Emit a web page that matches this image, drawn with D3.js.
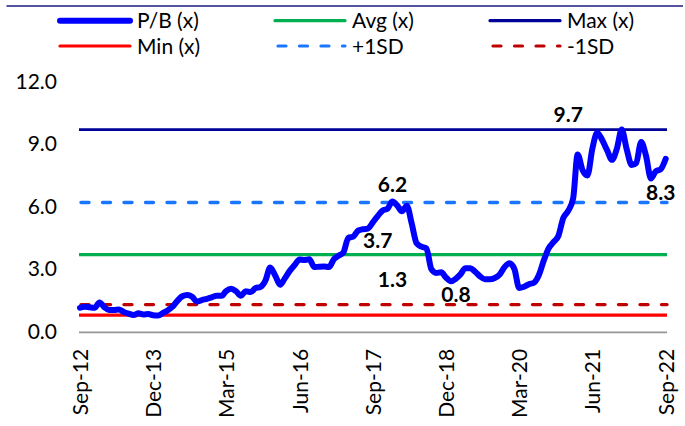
<!DOCTYPE html>
<html>
<head>
<meta charset="utf-8">
<script src="https://cdn.jsdelivr.net/npm/d3@7"></script>
<style>
  html, body { margin: 0; padding: 0; background: #fff; }
  svg { display: block; font-family: Lato, "Noto Sans", sans-serif; }
</style>
</head>
<body>
<svg id="chart" width="685" height="426"></svg>
<script>
// Monthly observations, Sep-2012 .. Sep-2022
const startMonth = new Date(2012, 8, 1);
const endMonth = new Date(2022, 8, 1);
const months = d3.timeMonth.range(startMonth, d3.timeMonth.offset(endMonth, 1));

// Price-to-book multiple (x), one value per month
const pbValues = [
  1.15, 1.20, 1.17, 1.15, 1.40, 1.17, 1.04, 1.04, 1.06, 0.95,
  0.87, 0.80, 0.88, 0.83, 0.85, 0.79, 0.78, 0.90, 1.02, 1.20,
  1.48, 1.70, 1.76, 1.68, 1.45, 1.52, 1.58, 1.65, 1.73, 1.72,
  1.95, 2.06, 1.95, 1.72, 1.94, 1.90, 2.10, 2.15, 2.45, 3.08,
  2.70, 2.25, 2.56, 2.92, 3.20, 3.47, 3.44, 3.48, 3.10, 3.12,
  3.13, 3.10, 3.48, 3.65, 3.80, 4.50, 4.56, 4.85, 4.92, 4.95,
  5.25, 5.55, 5.82, 5.90, 6.25, 6.05, 5.78, 6.05, 5.20, 4.24,
  4.08, 4.00, 3.00, 2.82, 2.85, 2.60, 2.42, 2.55, 2.75, 3.05,
  3.05, 2.88, 2.66, 2.52, 2.52, 2.58, 2.75, 3.10, 3.28, 3.00,
  2.10, 2.16, 2.28, 2.35, 2.70, 3.40, 4.00, 4.30, 4.60, 5.45,
  5.80, 6.40, 8.50, 7.75, 7.50, 8.80, 9.55, 9.20, 8.70, 8.25,
  8.80, 9.70, 8.75, 8.00, 8.10, 9.10, 8.45, 7.35, 7.70, 7.80,
  8.30
];

// Summary levels
const avgLevel = 3.7;
const maxLevel = 9.7;
const minLevel = 0.8;
const plusSdLevel = 6.2;
const minusSdLevel = 1.3;

// Axis ticks
const yTicks = [0, 3, 6, 9, 12];
const xTickLabels = ["Sep-12", "Dec-13", "Mar-15", "Jun-16", "Sep-17", "Dec-18", "Mar-20", "Jun-21", "Sep-22"];

// Legend entries (row-major, three per row)
const legendNames = ["P/B (x)", "Avg (x)", "Max (x)", "Min (x)", "+1SD", "-1SD"];

// Value call-outs: text, value, anchor month
const calloutTexts = ["9.7", "6.2", "3.7", "1.3", "0.8", "8.3"];
const calloutValues = [maxLevel, plusSdLevel, avgLevel, minusSdLevel, minLevel, 8.3];
const calloutMonths = ["2021-01", "2018-01", "2017-10", "2018-01", "2019-02", "2022-08"];

const data = months.map((d, i) => ({ date: d, value: pbValues[i] }));
const parseMonth = d3.timeParse("%Y-%m");
const fmtTick = d3.timeFormat("%b-%y");

const svg = d3.select("#chart");

const x = d3.scaleTime().domain([startMonth, endMonth]).range([80, 665.7]);
const y = d3.scaleLinear().domain([0, 12]).range([331.7, 81.7]);

const plotLeft = 79, plotRight = 667;

// Styles for each series
const styles = {
  "P/B (x)": { color: "#0000FF", width: 6, dash: null },
  "Avg (x)": { color: "#00B050", width: 3.2, dash: null },
  "Max (x)": { color: "#000099", width: 2.6, dash: null },
  "Min (x)": { color: "#FF0000", width: 3.2, dash: null },
  "+1SD":    { color: "#1A75FF", width: 3.4, dash: "8,13.5" },
  "-1SD":    { color: "#C00000", width: 3.4, dash: "8,13.5" }
};

// Top rule
svg.append("line")
  .attr("x1", 6.5).attr("x2", 683).attr("y1", 6).attr("y2", 6)
  .attr("stroke", "#1A1A80").attr("stroke-width", 1.6);

// Legend
const legendCols = [60, 275, 490];
const legendRows = [20.7, 46];
legendNames.forEach((name, i) => {
  const col = i % 3, row = Math.floor(i / 3);
  const lx = legendCols[col], ly = legendRows[row];
  const s = styles[name];
  const g = svg.append("g");
  const ln = g.append("line")
    .attr("x1", lx + (s.dash ? 3 : 0)).attr("x2", lx + 70)
    .attr("y1", ly).attr("y2", ly)
    .attr("stroke", s.color)
    .attr("stroke-width", name === "P/B (x)" ? 6 : 3.2)
    .attr("stroke-linecap", "round");
  if (s.dash) ln.attr("stroke-dasharray", s.dash);
  g.append("text")
    .attr("x", lx + 77).attr("y", ly).attr("dy", "0.36em")
    .attr("font-size", 21).attr("fill", "#000")
    .text(name);
});

// Reference lines
const refLines = [
  ["-1SD", minusSdLevel],
  ["+1SD", plusSdLevel],
  ["Min (x)", minLevel],
  ["Avg (x)", avgLevel],
  ["Max (x)", maxLevel]
];
refLines.forEach(([name, v]) => {
  const s = styles[name];
  const ln = svg.append("line")
    .attr("x1", plotLeft + (s.dash ? 2 : 0)).attr("x2", plotRight)
    .attr("y1", y(v)).attr("y2", y(v))
    .attr("stroke", s.color).attr("stroke-width", s.width);
  if (s.dash) ln.attr("stroke-dasharray", s.dash).attr("stroke-linecap", "round");
});

// Category axis baseline
svg.append("line")
  .attr("x1", plotLeft).attr("x2", plotRight)
  .attr("y1", 332.4).attr("y2", 332.4)
  .attr("stroke", "#969696").attr("stroke-width", 1.8);

// Y axis
const yAxis = svg.append("g")
  .attr("transform", `translate(${plotLeft},0)`)
  .call(d3.axisLeft(y).tickValues(yTicks).tickFormat(d3.format(".1f")).tickSize(0).tickPadding(22));
yAxis.select(".domain").remove();
yAxis.selectAll("text").attr("font-size", 21).attr("fill", "#000").attr("font-family", "Lato, sans-serif");

// X axis
const xTickDates = xTickLabels.map(t => d3.timeParse("%b-%y")(t));
const xAxis = svg.append("g")
  .attr("transform", "translate(0,332.4)")
  .call(d3.axisBottom(x).tickValues(xTickDates).tickFormat(fmtTick).tickSize(0));
xAxis.select(".domain").remove();
xAxis.selectAll("text")
  .attr("transform", "rotate(-90)")
  .attr("text-anchor", "end")
  .attr("x", -16.5).attr("y", 0).attr("dy", "0.36em")
  .attr("font-size", 21).attr("fill", "#000").attr("font-family", "Lato, sans-serif");

// P/B series
const line = d3.line()
  .x(d => x(d.date))
  .y(d => y(d.value))
  .curve(d3.curveMonotoneX);

svg.append("path")
  .datum(data)
  .attr("fill", "none")
  .attr("stroke", styles["P/B (x)"].color)
  .attr("stroke-width", 6)
  .attr("stroke-linejoin", "round")
  .attr("stroke-linecap", "round")
  .attr("d", line);

// Value call-outs
const calloutDy = [-8, -10.5, -6.3, -17.3, -13.3, 41.2];
calloutTexts.forEach((t, i) => {
  svg.append("text")
    .attr("x", x(parseMonth(calloutMonths[i])))
    .attr("y", y(calloutValues[i]) + calloutDy[i])
    .attr("text-anchor", "middle")
    .attr("font-size", 21).attr("font-weight", "bold").attr("fill", "#000")
    .text(t);
});
</script>
</body>
</html>
